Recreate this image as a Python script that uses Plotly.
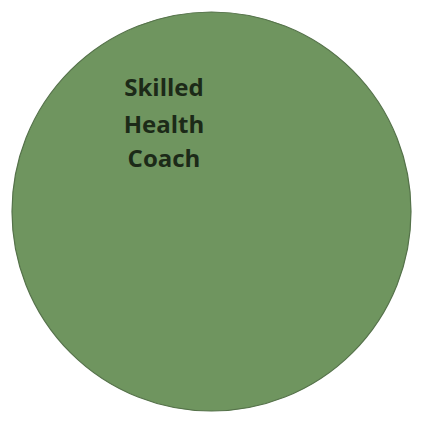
import plotly.graph_objects as go

labels = ["Skilled", "Health", "Coach"]
circle_center = [211.5, 211.5]
circle_radius = [199.5]
label_x = [164, 164, 164]
label_y = [90, 127, 161]

fig = go.Figure()
cx, cy = circle_center
r = circle_radius[0]
fig.add_shape(type="circle", xref="x", yref="y", layer="below",
              x0=cx - r, x1=cx + r, y0=cy - r, y1=cy + r,
              fillcolor="#6f955f", line=dict(color="#55724a", width=1.2))
fig.add_trace(go.Scatter(x=label_x, y=label_y, mode="text", text=labels,
                         textfont=dict(family="Open Sans", size=24, color="#1c2a18"),
                         hoverinfo="skip", showlegend=False))
fig.update_traces(texttemplate="<b>%{text}</b>")
fig.update_xaxes(range=[0, 422], visible=False, fixedrange=True)
fig.update_yaxes(range=[423, 0], visible=False, fixedrange=True)
fig.update_layout(width=422, height=423, margin=dict(l=0, r=0, t=0, b=0),
                  paper_bgcolor="white", plot_bgcolor="white")
fig.write_html("out.html", config={"displayModeBar": False})

with open("out.html", encoding="utf-8") as f:
    html = f.read()
html = html.replace("<head>", "<head><style>html,body{margin:0;padding:0;overflow:hidden;}</style>", 1)
with open("out.html", "w", encoding="utf-8") as f:
    f.write(html)
